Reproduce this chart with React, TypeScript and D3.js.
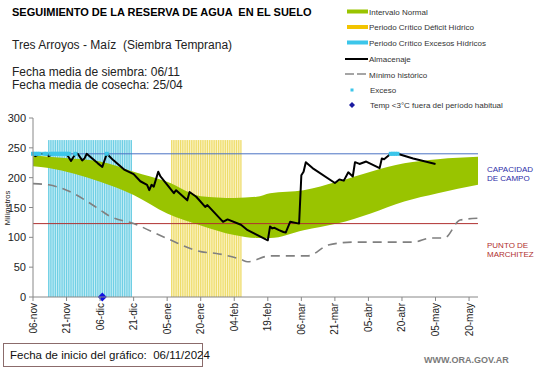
import React from 'react'
import * as d3 from 'd3'

// dias contados desde la fecha de inicio (06/11/2024)
const startDate = new Date(2024, 10, 6)
const endDay = 199

const normalDays = [0, 7, 30, 45, 60, 75, 90, 100, 106, 121, 136, 151, 166, 181, 199]
const normalUpper = [238, 235, 227, 210, 193, 169, 166, 168, 174, 179, 193, 210, 224, 231, 235]
const normalLower = [219, 216, 193, 171, 140, 120, 104, 99, 99, 112, 123, 140, 160, 174, 188]

const minDays = [0, 7, 15, 30, 34, 45, 60, 75, 82, 93, 96, 106, 123, 132, 143, 170, 178, 184, 191, 199]
const minValues = [190, 188, 179, 146, 136, 123, 98, 76, 73, 63, 59, 69, 69, 87, 92, 92, 99, 99, 129, 132]

const almDays = [0, 1, 3, 6, 7, 9, 15, 17, 19, 20, 22, 23, 24, 29, 31, 33, 36, 41, 45, 48, 51, 52, 53, 54, 56, 57,
  63, 64, 69, 70, 73, 77, 78, 85, 87, 93, 96, 105, 106, 107, 108, 110, 112, 113, 115, 119, 120, 121, 122, 125,
  135, 137, 139, 141, 143, 144, 146, 149, 155, 156, 157, 160, 163, 170, 180]
const almValues = [240, 236, 240, 240, 236, 240, 240, 228, 240, 240, 229, 232, 240, 224, 218, 240, 229, 213, 206, 194, 188, 179, 188, 185, 210, 202,
  174, 179, 162, 176, 168, 151, 154, 126, 130, 121, 112, 95, 118, 115, 116, 112, 109, 108, 126, 123, 204, 210, 226, 216,
  191, 197, 195, 209, 202, 226, 223, 227, 216, 232, 231, 240, 240, 232, 223]

const excesoDays = [0, 1, 2, 3, 5, 6, 8, 9, 10, 11, 12, 13, 14, 15, 16, 19, 33, 160, 161, 162, 163]
const tempDays = [31]

const excesoCriticoStart = 7
const excesoCriticoEnd = 44
const deficitCriticoStart = 62
const deficitCriticoEnd = 93
const criticoTop = 263

const capacidadCampo = 240
const puntoMarchitez = 123

const yTicks = [0, 50, 100, 150, 200, 250, 300]
const monthNames = ['ene', 'feb', 'mar', 'abr', 'may', 'jun', 'jul', 'ago', 'sep', 'oct', 'nov', 'dic']

const legendItems = ['Intervalo Normal', 'Periodo Crítico Déficit Hídrico', 'Periodo Crítico Excesos Hídricos',
  'Almacenaje', 'Mínimo histórico', 'Exceso', 'Temp <3°C fuera del período habitual']

const dayToDate = (d: number) => d3.timeDay.offset(startDate, d)

export default function App() {
  const x = d3.scaleTime().domain([startDate, dayToDate(endDay)]).range([33, 478])
  const y = d3.scaleLinear().domain([0, 300]).range([297, 118])

  const band = d3.area<number>()
    .x(i => x(dayToDate(normalDays[i])))
    .y0(i => y(normalLower[i]))
    .y1(i => y(normalUpper[i]))
    .curve(d3.curveMonotoneX)

  const minLine = d3.line<number>()
    .x(i => x(dayToDate(minDays[i])))
    .y(i => y(minValues[i]))
    .curve(d3.curveMonotoneX)

  const almLine = d3.line<number>()
    .x(i => x(dayToDate(almDays[i])))
    .y(i => y(almValues[i]))

  const xTicks = d3.range(0, endDay, 15).map(dayToDate)
  const fmt = (d: Date) => `${d3.timeFormat('%d')(d)}-${monthNames[d.getMonth()]}`

  const stripes = (from: number, to: number, fill: string, line: string) => (
    <g>
      <rect x={x(dayToDate(from))} y={y(criticoTop)} width={x(dayToDate(to)) - x(dayToDate(from))}
        height={y(0) - y(criticoTop)} fill={fill} />
      {d3.range(from, to + 1).map(d => (
        <rect key={d} x={x(dayToDate(d)) - 0.6} y={y(criticoTop)} width={1.2} height={y(0) - y(criticoTop)} fill={line} />
      ))}
    </g>
  )

  const font = 'Arial, "Liberation Sans", sans-serif'
  const pre = { whiteSpace: 'pre' as const }

  return (
    <svg width={541} height={368} style={{ position: 'absolute', left: 0, top: 0, background: '#fff' }} fontFamily={font}>
      <text x={12} y={16} fontSize={11} fontWeight="bold" fill="#000" style={pre}>SEGUIMIENTO DE LA RESERVA DE AGUA  EN EL SUELO</text>
      <text x={12} y={49} fontSize={12} fill="#222" style={pre}>Tres Arroyos - Maíz  (Siembra Temprana)</text>
      <text x={12} y={76} fontSize={12} fill="#222">Fecha media de siembra: 06/11</text>
      <text x={12} y={89} fontSize={12} fill="#222">Fecha media de cosecha: 25/04</text>

      {/* leyenda */}
      <g fontSize={8} fill="#333">
        <rect x={347} y={9.5} width={21} height={4} fill="#99c400" />
        <rect x={347} y={25} width={21} height={4} fill="#f2c400" />
        <rect x={347} y={40.5} width={21} height={4} fill="#3cc6ea" />
        <line x1={345} x2={368} y1={59} y2={59} stroke="#000" strokeWidth={2} />
        <line x1={345} x2={368} y1={74} y2={74} stroke="#888" strokeWidth={1.5} strokeDasharray="9,3" />
        <rect x={350.5} y={88.5} width={3} height={3} fill="#3cc6ea" />
        <path d="M352,102 L355,105 L352,108 L349,105 Z" fill="#1a1aa0" />
        {legendItems.map((t, i) => (
          <text key={t} x={i < 5 ? 369 : 370} y={[14.5, 30, 45.5, 62, 77.5, 93, 108][i]}>{t}</text>
        ))}
      </g>

      {stripes(excesoCriticoStart, excesoCriticoEnd, '#c6edf6', '#6fcfe4')}
      {stripes(deficitCriticoStart, deficitCriticoEnd, '#fbf4c8', '#eedc6a')}

      <path d={band(d3.range(normalDays.length)) || ''} fill="#99c400" />

      <line x1={x(dayToDate(0))} x2={478} y1={y(capacidadCampo)} y2={y(capacidadCampo)} stroke="#4a72c4" strokeWidth={1} />
      <line x1={x(dayToDate(0))} x2={478} y1={y(puntoMarchitez)} y2={y(puntoMarchitez)} stroke="#b03030" strokeWidth={1} />

      <path d={minLine(d3.range(minDays.length)) || ''} fill="none" stroke="#808080" strokeWidth={1.6} strokeDasharray="9,6" />
      <path d={almLine(d3.range(almDays.length)) || ''} fill="none" stroke="#000" strokeWidth={2} strokeLinejoin="round" />

      {excesoDays.map(d => (
        <rect key={d} x={x(dayToDate(d)) - 2} y={y(capacidadCampo) - 2} width={4} height={4} fill="#3cc6ea" />
      ))}
      {tempDays.map(d => (
        <path key={d} transform={`translate(${x(dayToDate(d))},${y(0)})`} d="M0,-4.5 L4.5,0 L0,4.5 L-4.5,0 Z" fill="#1010e0" />
      ))}

      {/* ejes */}
      <line x1={33} x2={33} y1={118} y2={297} stroke="#888" />
      <line x1={33} x2={478} y1={297} y2={297} stroke="#888" />
      {yTicks.map(t => (
        <g key={t}>
          <line x1={29} x2={33} y1={y(t)} y2={y(t)} stroke="#888" />
          <text x={26} y={y(t) + 4} fontSize={11} textAnchor="end" fill="#222">{t}</text>
        </g>
      ))}
      <text transform={`translate(10,208) rotate(-90)`} fontSize={7.5} textAnchor="middle" fill="#222">Milímetros</text>
      {xTicks.map(t => (
        <g key={t.getTime()}>
          <line x1={x(t)} x2={x(t)} y1={297} y2={301} stroke="#888" />
          <text transform={`translate(${x(t) + 3.5},303) rotate(-90)`} fontSize={10} textAnchor="end" fill="#222">{fmt(t)}</text>
        </g>
      ))}

      <g fontSize={8} style={pre}>
        <text x={487} y={172} fill="#2e2ea8">CAPACIDAD</text>
        <text x={487} y={181} fill="#2e2ea8">DE  CAMPO</text>
        <text x={487} y={248} fill="#b03030">PUNTO   DE</text>
        <text x={487} y={257} fill="#b03030">MARCHITEZ</text>
      </g>

      <rect x={3.5} y={343.5} width={199} height={23} fill="#fff" stroke="#8b6b6b" />
      <text x={10} y={359} fontSize={11.5} fill="#111" style={pre}>Fecha de inicio del gráfico:  06/11/2024</text>
      <text x={424} y={363} fontSize={9} fontWeight="bold" fill="#7a7a7a">WWW.ORA.GOV.AR</text>
    </svg>
  )
}
